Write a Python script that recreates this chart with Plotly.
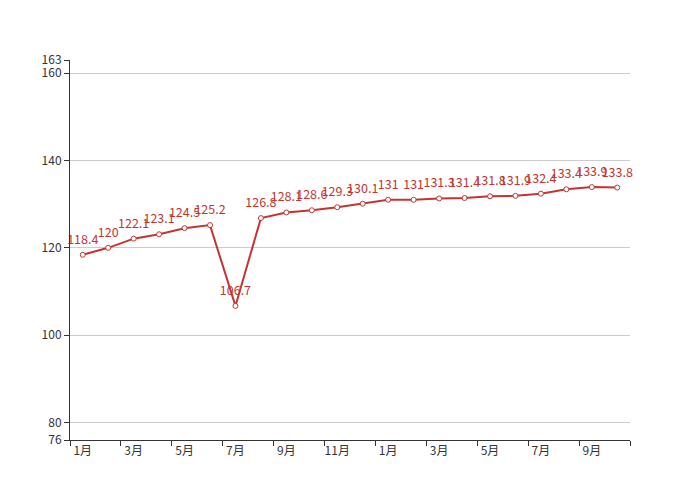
import plotly.graph_objects as go

months = ["1月","2月","3月","4月","5月","6月","7月","8月","9月","10月","11月","12月",
          "1月","2月","3月","4月","5月","6月","7月","8月","9月","10月"]
values = [118.4, 120, 122.1, 123.1, 124.5, 125.2, 106.7, 126.8, 128.1, 128.6, 129.3,
          130.1, 131, 131, 131.3, 131.4, 131.8, 131.9, 132.4, 133.4, 133.9, 133.8]
y_ticks = [76, 80, 100, 120, 140, 160, 163]

RED = "#c23531"
FONT = "Noto Sans CJK SC"
x = list(range(len(months)))

fig = go.Figure()
fig.add_trace(go.Scatter(
    x=x, y=values, mode="lines+markers",
    line=dict(color=RED, width=2),
    marker=dict(size=5, color="white", line=dict(color=RED, width=1)),
    cliponaxis=False, showlegend=False,
))
# labels (invisible larger markers push text a little higher)
fig.add_trace(go.Scatter(
    x=x, y=values, mode="markers+text",
    text=[str(v) for v in values], textposition="top center",
    textfont=dict(color=RED, size=12.5, family=FONT),
    marker=dict(size=11, opacity=0),
    cliponaxis=False, showlegend=False, hoverinfo="skip",
))
# invisible trace to activate xaxis2 for boundary ticks
fig.add_trace(go.Scatter(x=[-0.5], y=[76], xaxis="x2", mode="markers",
                         marker=dict(opacity=0), showlegend=False, hoverinfo="skip"))

n = len(months)
fig.update_layout(
    width=700, height=500,
    margin=dict(l=62, r=78, t=52, b=68),
    paper_bgcolor="white", plot_bgcolor="white",
    font=dict(family=FONT, size=12, color="#333"),
    xaxis=dict(
        range=[-0.5, n - 0.5], tickmode="array",
        tickvals=x[::2], ticktext=months[::2],
        ticks="", showgrid=False, zeroline=False,
        showline=True, linecolor="#333", linewidth=1,
        tickfont=dict(size=12, color="#333"),
    ),
    xaxis2=dict(
        range=[-0.5, n - 0.5], overlaying="x", side="bottom",
        tickmode="array", tickvals=[i - 0.5 for i in range(0, n + 1, 2)],
        ticktext=["" for _ in range(0, n + 1, 2)],
        ticks="outside", ticklen=5, tickcolor="#333",
        showgrid=False, zeroline=False, showline=False, showticklabels=False,
    ),
    yaxis=dict(
        range=[76, 163], tickmode="array", tickvals=y_ticks,
        ticks="outside", ticklen=5, tickcolor="#333",
        showgrid=True, gridcolor="#ccc", gridwidth=1, zeroline=False,
        showline=True, linecolor="#333", linewidth=1,
        tickfont=dict(size=12, color="#333"),
    ),
)

fig.write_html("out.html")
